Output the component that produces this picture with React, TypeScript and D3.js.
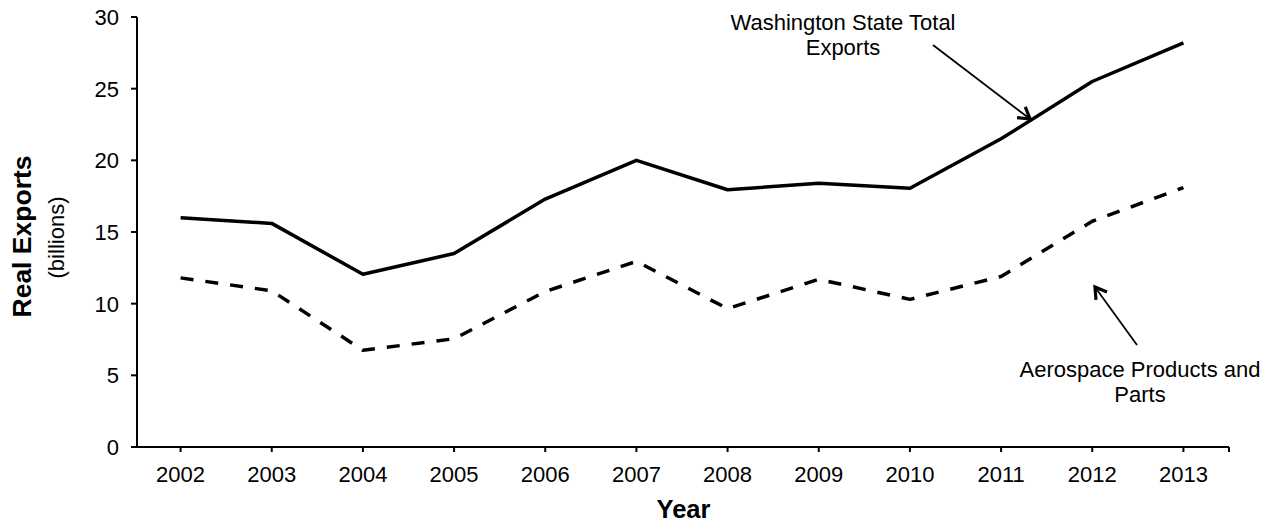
import React from "react";
import * as d3 from "d3";

const years = ["2002","2003","2004","2005","2006","2007","2008","2009","2010","2011","2012","2013"];
const totalExports = [16.0, 15.6, 12.05, 13.5, 17.3, 20.0, 17.95, 18.4, 18.05, 21.5, 25.5, 28.2];
const aerospaceExports = [11.8, 10.9, 6.75, 7.55, 10.85, 12.95, 9.65, 11.7, 10.3, 11.9, 15.75, 18.1];
const yTicks = [0, 5, 10, 15, 20, 25, 30];

const FONT = "'Liberation Sans', Arial, Helvetica, sans-serif";

export default function App() {
  const W = 1265, H = 522;
  const x = d3.scaleBand<string>().domain(years).range([135, 1229]).paddingInner(0).paddingOuter(0);
  const cx = (yr: string) => (x(yr) as number) + x.bandwidth() / 2;
  const y = d3.scaleLinear().domain([0, 30]).range([447, 17]);
  const axisX = 137;
  const line = d3.line<number>().x((_, i) => cx(years[i])).y((v) => y(v));

  const arrow = (x1: number, y1: number, x2: number, y2: number) => {
    const ang = Math.atan2(y2 - y1, x2 - x1);
    const L = 13, a = 0.55;
    const p1 = [x2 - L * Math.cos(ang - a), y2 - L * Math.sin(ang - a)];
    const p2 = [x2 - L * Math.cos(ang + a), y2 - L * Math.sin(ang + a)];
    return (
      <g>
        <line x1={x1} y1={y1} x2={x2 - 1.5 * Math.cos(ang)} y2={y2 - 1.5 * Math.sin(ang)} stroke="#000" strokeWidth={1.8} />
        <polyline points={`${p1[0]},${p1[1]} ${x2},${y2} ${p2[0]},${p2[1]}`} fill="none" stroke="#000" strokeWidth={3.2} strokeLinejoin="miter" strokeLinecap="butt" />
      </g>
    );
  };

  return (
    <svg width={W} height={H} style={{ position: "absolute", left: 0, top: 0, background: "#fff" }} fontFamily={FONT}>
      <rect width={W} height={H} fill="#fff" />
      {/* y axis */}
      <line x1={axisX} y1={y(30)} x2={axisX} y2={y(0)} stroke="#000" strokeWidth={2} />
      {yTicks.map((t) => (
        <g key={t}>
          <line x1={axisX - 6} x2={axisX} y1={y(t)} y2={y(t)} stroke="#000" strokeWidth={2} />
          <text x={119} y={y(t)} dy="0.36em" textAnchor="end" fontSize={22} fill="#000">{t}</text>
        </g>
      ))}
      {/* x axis */}
      <line x1={axisX - 6} x2={1229} y1={y(0)} y2={y(0)} stroke="#000" strokeWidth={2} />
      {years.map((yr) => (
        <g key={yr}>
          <line x1={cx(yr)} x2={cx(yr)} y1={y(0)} y2={y(0) + 5} stroke="#000" strokeWidth={2} />
          <text x={cx(yr)} y={481.5} textAnchor="middle" fontSize={22} fill="#000">{yr}</text>
        </g>
      ))}
      <line x1={1229} x2={1229} y1={y(0)} y2={y(0) + 5} stroke="#000" strokeWidth={2} />

      {/* axis titles */}
      <text x={683.5} y={517.5} textAnchor="middle" fontSize={25.5} fontWeight="bold" fill="#000">Year</text>
      <text transform={`translate(31,236.5) rotate(-90)`} textAnchor="middle" fontSize={26.5} fontWeight="bold" fill="#000">Real Exports</text>
      <text transform={`translate(64,237.5) rotate(-90)`} textAnchor="middle" fontSize={22} fill="#000">(billions)</text>

      {/* series */}
      <path d={line(totalExports) || ""} fill="none" stroke="#000" strokeWidth={3.5} strokeLinejoin="round" />
      <path d={line(aerospaceExports) || ""} fill="none" stroke="#000" strokeWidth={3.5} strokeDasharray="13 12" strokeLinejoin="round" />

      {/* annotations */}
      <text x={843} y={30} textAnchor="middle" fontSize={22} fill="#000">Washington State Total</text>
      <text x={843} y={55} textAnchor="middle" fontSize={22} fill="#000">Exports</text>
      {arrow(933, 45, 1030, 119)}

      <text x={1140} y={377} textAnchor="middle" fontSize={22} fill="#000">Aerospace Products and</text>
      <text x={1140} y={402} textAnchor="middle" fontSize={22} fill="#000">Parts</text>
      {arrow(1137, 345, 1095, 287)}
    </svg>
  );
}
